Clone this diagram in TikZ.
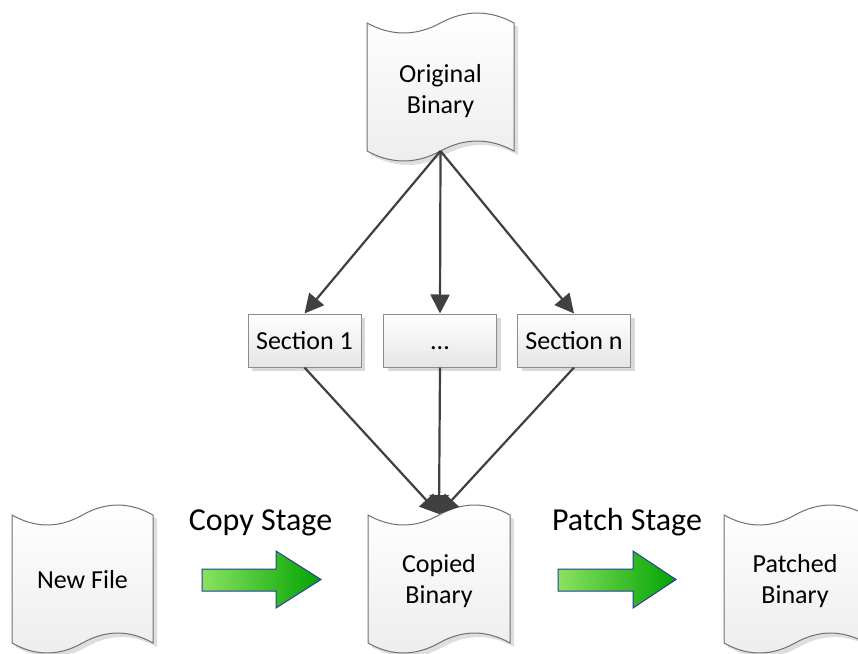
\documentclass[tikz,border=0pt]{standalone}
\usepackage{fontspec}
\setmainfont{Carlito}
\usetikzlibrary{arrows.meta,shadows}
\definecolor{tapeline}{HTML}{707070}
\definecolor{boxline}{HTML}{8C8C8C}
\definecolor{conncol}{HTML}{404040}
\definecolor{gA}{HTML}{8AE262}
\definecolor{gB}{HTML}{00A400}
\definecolor{arrline}{HTML}{2B3C9A}
\newcommand\mytapepath[4]{(#1,-#3) .. controls ({#1+(#2-#1)/6},{-#3-13.3}) and ({#1+(#2-#1)/3},{-#3-13.3}) .. ({(#1+#2)/2},-#3)
 .. controls ({#1+2*(#2-#1)/3},{-#3+13.3}) and ({#1+5*(#2-#1)/6},{-#3+13.3}) .. (#2,-#3)
 -- (#2,-#4)
 .. controls ({#1+5*(#2-#1)/6},{-#4+13.3}) and ({#1+2*(#2-#1)/3},{-#4+13.3}) .. ({(#1+#2)/2},-#4)
 .. controls ({#1+(#2-#1)/3},{-#4-13.3}) and ({#1+(#2-#1)/6},{-#4-13.3}) .. (#1,-#4) -- cycle}
\newcommand\mytape[4]{%
 \fill[tapeshadow] \mytapepath{#1}{#2}{#3}{#4};
 \draw[tapestyle] \mytapepath{#1}{#2}{#3}{#4};}
\tikzset{
 tapestyle/.style={draw=tapeline, line width=1pt, top color=white, bottom color=black!7},
 tapeshadow/.style={fill=black!13, shift={(4,-4)}},
 tapetext/.style={font=\fontsize{26}{31}\selectfont, align=center, inner sep=0pt},
 secbox/.style={draw=boxline, line width=1pt, top color=white, bottom color=black!10,
   minimum width=113pt, minimum height=53pt, inner sep=0pt, text height=17pt, text depth=0pt,
   font=\fontsize{26}{31}\selectfont,
   drop shadow={shadow xshift=4pt, shadow yshift=-4pt, fill=black!15, opacity=1}},
 conn/.style={draw=conncol, line width=2.2pt, arrows={-Triangle[length=19pt 0 0,width=19pt 0 0]}},
 stagearrow/.style={draw=arrline, line width=1pt, left color=gA, right color=gB},
 stagelabel/.style={font=\fontsize{32}{36}\selectfont, anchor=base, inner sep=0pt},
}
\begin{document}
\begin{tikzpicture}[x=1pt,y=1pt]
\useasboundingbox (0,0) rectangle (858,-653);
\clip (0,0) rectangle (858,-653);
% tapes
\mytape{367}{514}{23}{151}
\mytape{12}{153}{515}{643}
\mytape{368}{510}{515}{643}
\mytape{724}{866}{515}{643}
\node[tapetext] (orig) at (440.5,-91.5) {Original\\Binary};
\node[tapetext, anchor=base] (newf) at (82.5,-588) {New File};
\node[tapetext] (copied) at (439,-581.5) {Copied\\Binary};
\node[tapetext] (patched) at (795,-581.5) {Patched\\Binary};
\coordinate (origB) at (440.5,-151);
\coordinate (copT) at (439,-514);
% sections
\node[secbox] (s1) at (304.5,-340.5) {Section 1};
\node[secbox] (sd) at (440,-340.5) {...};
\node[secbox] (sn) at (574,-340.5) {Section n};
% connectors
\draw[conn] (origB) -- (s1.north);
\draw[conn] (origB) -- (sd.north);
\draw[conn] (origB) -- (sn.north);
\draw[conn] (s1.south) -- (copT);
\draw[conn] (sd.south) -- (copT);
\draw[conn] (sn.south) -- (copT);
% stage arrows
\draw[stagearrow] (202,-569) -- (276,-569) -- (276,-551) -- (321,-579.5) -- (276,-608) -- (276,-591) -- (202,-591) -- cycle;
\draw[stagearrow] (558,-569) -- (633,-569) -- (633,-551) -- (676,-579.5) -- (633,-608) -- (633,-591) -- (558,-591) -- cycle;
\node[stagelabel] (copylbl) at (260.5,-530) {Copy Stage};
\node[stagelabel] (patchlbl) at (627,-530) {Patch Stage};
\end{tikzpicture}
\end{document}
